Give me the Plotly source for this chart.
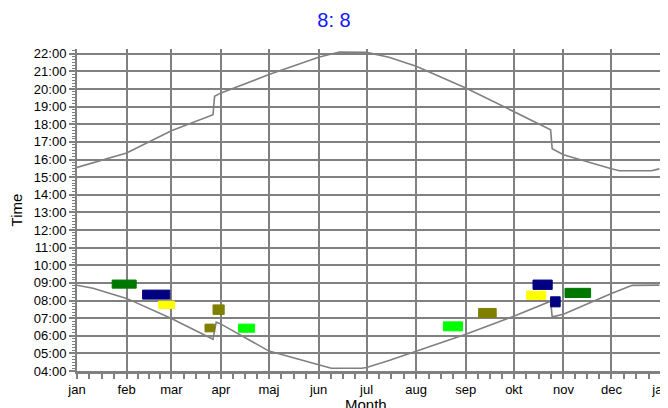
import plotly.graph_objects as go
import datetime as dt

# ---- data ----
month_starts = ["2011-01-01", "2011-02-01", "2011-03-01", "2011-04-01", "2011-05-01", "2011-06-01",
                "2011-07-01", "2011-08-01", "2011-09-01", "2011-10-01", "2011-11-01", "2011-12-01",
                "2012-01-01"]
month_labels = ["jan", "feb", "mar", "apr", "maj", "jun", "jul", "aug", "sep", "okt", "nov", "dec", "jan"]
hour_vals = list(range(4, 23))
hour_labels = ["%02d:00" % h for h in hour_vals]

rise_dates = ["2011-01-01", "2011-01-11", "2011-02-01", "2011-03-01", "2011-03-27", "2011-03-29",
              "2011-04-01", "2011-05-01", "2011-06-01", "2011-06-09", "2011-06-28", "2011-07-01",
              "2011-07-15", "2011-08-01", "2011-09-01", "2011-10-01", "2011-10-24", "2011-10-25",
              "2011-11-01", "2011-12-01", "2011-12-14", "2011-12-31"]
rise_hours = [8.87, 8.69, 8.12, 6.98, 5.80, 6.77,
              6.66, 5.13, 4.36, 4.16, 4.16, 4.20,
              4.60, 5.12, 6.09, 7.11, 7.96, 7.07,
              7.22, 8.40, 8.86, 8.87]

set_dates = ["2011-01-01", "2011-02-01", "2011-03-01", "2011-03-27", "2011-03-28", "2011-04-01",
             "2011-05-01", "2011-06-01", "2011-06-14", "2011-07-01", "2011-07-15", "2011-08-01",
             "2011-09-01", "2011-10-01", "2011-10-24", "2011-10-25", "2011-11-01", "2011-12-01",
             "2011-12-06", "2011-12-26", "2011-12-31"]
set_hours = [15.55, 16.37, 17.63, 18.54, 19.59, 19.78,
             20.82, 21.80, 22.10, 22.08, 21.80, 21.29,
             20.06, 18.74, 17.69, 16.61, 16.27, 15.47,
             15.36, 15.36, 15.47]

blk_start = ["2011-01-23", "2011-02-11", "2011-02-21", "2011-03-27", "2011-03-22", "2011-04-12",
             "2011-08-18", "2011-09-09", "2011-10-09", "2011-10-13", "2011-10-24", "2011-11-02"]
blk_end = ["2011-02-07", "2011-02-28", "2011-03-03", "2011-04-03", "2011-03-28", "2011-04-22",
           "2011-08-30", "2011-09-20", "2011-10-21", "2011-10-25", "2011-10-30", "2011-11-18"]
blk_low = [8.70, 8.08, 7.55, 7.21, 6.22, 6.20, 6.28, 7.04, 8.06, 8.63, 7.64, 8.17]
blk_high = [9.16, 8.59, 7.96, 7.75, 6.66, 6.66, 6.79, 7.55, 8.53, 9.16, 8.21, 8.69]
blk_colors = ["#007800", "#000080", "#ffff00", "#808000", "#808000", "#00ff00",
              "#00ff00", "#808000", "#ffff00", "#000080", "#000080", "#007800"]

# ---- figure ----
GRAY = "#808080"
FONT = "Arial, Liberation Sans, sans-serif"

fig = go.Figure()
for xs, ys in ((rise_dates, rise_hours), (set_dates, set_hours)):
    fig.add_trace(go.Scatter(x=xs, y=ys, mode="lines", line=dict(color=GRAY, width=1.6),
                             hoverinfo="skip", showlegend=False))

for s, e, lo, hi, c in zip(blk_start, blk_end, blk_low, blk_high, blk_colors):
    fig.add_trace(go.Scatter(x=[s, e, e, s, s], y=[lo, lo, hi, hi, lo], mode="lines",
                             fill="toself", fillcolor=c, line=dict(color=c, width=1),
                             hoverinfo="skip", showlegend=False))

# minor x ticks: quarter-month positions
minor_x = []
for i in range(12):
    a = dt.date.fromisoformat(month_starts[i])
    b = dt.date.fromisoformat(month_starts[i + 1])
    n = (b - a).days
    for k in (1, 2, 3):
        minor_x.append((dt.datetime.combine(a, dt.time()) + dt.timedelta(days=n * k / 4)).isoformat())

fig.update_xaxes(type="date", range=["2011-01-01", "2012-01-01"],
                 tickmode="array", tickvals=month_starts, ticktext=month_labels,
                 ticks="outside", ticklen=5, tickwidth=1.5, tickcolor=GRAY,
                 showgrid=True, gridcolor=GRAY, gridwidth=1.5,
                 showline=True, linecolor=GRAY, linewidth=2.5,
                 tickfont=dict(family=FONT, size=13, color="black"),
                 ticklabeloverflow="allow",
                 minor=dict(tickmode="array", tickvals=minor_x, ticks="outside", ticklen=5,
                            tickwidth=1.5, tickcolor=GRAY, showgrid=False),
                 automargin=False, zeroline=False)

fig.update_yaxes(range=[4, 22.27], tickmode="array", tickvals=hour_vals, ticktext=hour_labels,
                 ticks="outside", ticklen=6, tickwidth=1.5, tickcolor=GRAY,
                 showgrid=True, gridcolor=GRAY, gridwidth=1.5,
                 showline=True, linecolor=GRAY, linewidth=2,
                 tickfont=dict(family=FONT, size=13, color="black"),
                 title=dict(text="Time", font=dict(family=FONT, size=15, color="black"), standoff=16),
                 minor=dict(tick0=4, dtick=1 / 6, ticks="outside", ticklen=3, tickwidth=1,
                            tickcolor=GRAY, showgrid=False),
                 automargin=False, zeroline=False)

# page body has an 8px margin; figure sized so it fits the 668x408 window
fig.update_layout(
    width=660, height=400,
    margin=dict(l=69, r=7, t=41, b=37),
    paper_bgcolor="white", plot_bgcolor="white",
    title=dict(text="8: 8", x=(334 - 8) / 660, xanchor="center", y=1 - 12 / 400, yanchor="middle",
               font=dict(family=FONT, size=20, color="#1414ff")),
    showlegend=False,
    annotations=[dict(text="Month", xref="paper", yref="paper", x=0.5, y=0, xshift=-3, yshift=-33,
                      xanchor="center", yanchor="middle", showarrow=False,
                      font=dict(family=FONT, size=15, color="black"))],
)

fig.write_html("out.html")
